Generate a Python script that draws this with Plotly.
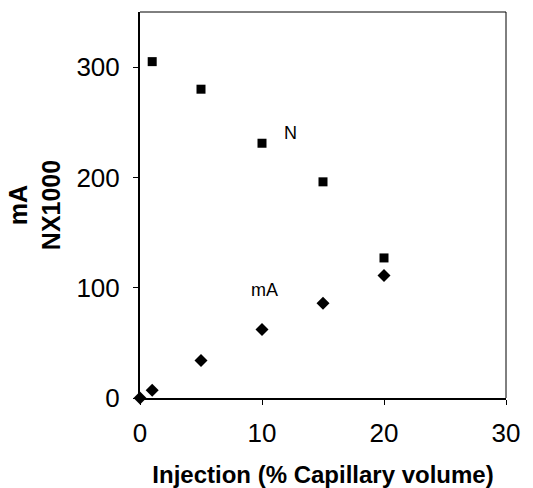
import plotly.graph_objects as go

inj_N = [1, 5, 10, 15, 20]
N_vals = [305, 280, 231, 196, 127]
inj_mA = [0, 1, 5, 10, 15, 20]
mA_vals = [0, 7, 34, 62, 86, 111]
x_ticks = [0, 10, 20, 30]
y_ticks = [0, 100, 200, 300]

FONT = "Liberation Sans, Arial, sans-serif"

fig = go.Figure()
fig.add_trace(go.Scatter(x=inj_N, y=N_vals, mode="markers", name="N",
                         marker=dict(symbol="square", size=9, color="black"),
                         cliponaxis=False))
fig.add_trace(go.Scatter(x=inj_mA, y=mA_vals, mode="markers", name="mA",
                         marker=dict(symbol="diamond", size=10, color="black"),
                         cliponaxis=False))

fig.add_annotation(x=12.3, y=240, text="N", showarrow=False,
                   font=dict(family=FONT, size=18, color="black"))
fig.add_annotation(x=10.2, y=98, text="mA", showarrow=False,
                   font=dict(family=FONT, size=18, color="black"))

# thin top and right frame lines
fig.add_shape(type="line", xref="paper", yref="paper", x0=0, x1=1, y0=1, y1=1,
              line=dict(color="black", width=1))
fig.add_shape(type="line", xref="paper", yref="paper", x0=1, x1=1, y0=0, y1=1,
              line=dict(color="black", width=1))

fig.update_layout(
    width=533, height=488,
    margin=dict(l=140, r=27, t=12, b=90),
    paper_bgcolor="white", plot_bgcolor="white",
    showlegend=False,
    font=dict(family=FONT, color="black"),
    xaxis=dict(range=[0, 30], tickvals=x_ticks, showgrid=False, zeroline=False,
               showline=True, linecolor="black", linewidth=2, automargin=False,
               ticks="outside", ticklen=5, tickcolor="black", tickwidth=1,
               ticklabelstandoff=6,
               tickfont=dict(size=26, family=FONT),
               title=dict(text="<b>Injection (% Capillary volume)</b>",
                          font=dict(size=24, family=FONT), standoff=32)),
    yaxis=dict(range=[0, 350], tickvals=y_ticks, showgrid=False, zeroline=False,
               showline=True, linecolor="black", linewidth=2, automargin=False,
               ticks="outside", ticklen=5, tickcolor="black", tickwidth=1,
               ticklabelstandoff=8,
               tickfont=dict(size=26, family=FONT),
               title=dict(text="<b>mA<br>NX1000</b>",
                          font=dict(size=25, family=FONT), standoff=9)),
)

fig.write_html("out.html")
